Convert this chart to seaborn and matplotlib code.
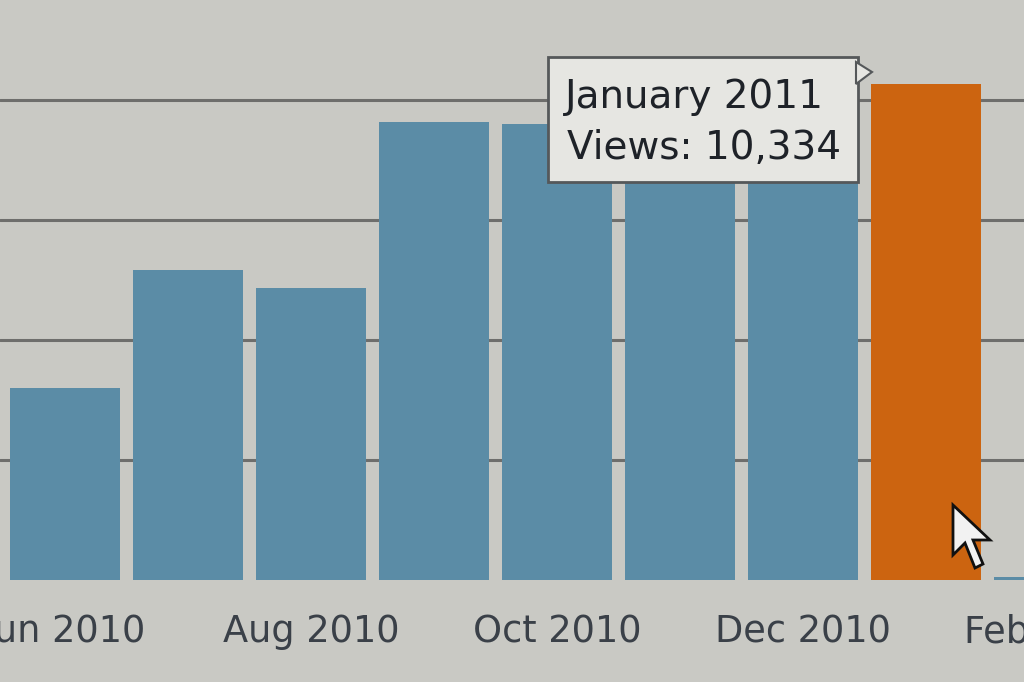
import matplotlib
matplotlib.use("Agg")
import matplotlib.pyplot as plt
from matplotlib.patches import Rectangle, Polygon
import seaborn as sns
import pandas as pd

months = ["Jun 2010", "Jul 2010", "Aug 2010", "Sep 2010", "Oct 2010",
          "Nov 2010", "Dec 2010", "Jan 2011", "Feb 2011"]
views = [4000, 6450, 6080, 9540, 9500, 9400, 9750, 10334, 70]
tick_labels = ["Jun 2010", "", "Aug 2010", "", "Oct 2010", "", "Dec 2010", "", "Feb 2011"]
highlight = "Jan 2011"
tooltip_title = "January 2011"
tooltip_value = "Views: 10,334"
grid_values = [2500, 5000, 7500, 10000]

bg = "#c9c9c4"
blue = "#5b8ca6"
orange = "#cc6410"
label_color = "#3a4048"

sns.set_theme(style="white")
plt.rcParams['font.family'] = ['DejaVu Sans']

df = pd.DataFrame({"month": months, "views": views})
palette = {m: (orange if m == highlight else blue) for m in months}

fig = plt.figure(figsize=(10.24, 6.82), dpi=100, facecolor=bg)
ax = fig.add_axes([0, 102 / 682, 1, 580 / 682])
ax.set_facecolor(bg)

for g in grid_values:
    ax.axhline(g, color="#6e6e6c", lw=2.2, zorder=0)

sns.barplot(data=df, x="month", y="views", hue="month", palette=palette,
            legend=False, width=0.895, saturation=1, linewidth=0, ax=ax, zorder=2)

ax.set_xticks(range(len(months)))
ax.set_xticklabels(["" if i == len(months) - 1 else t for i, t in enumerate(tick_labels)],
                   fontsize=26.5, color=label_color)
ax.tick_params(axis="x", length=0, pad=24)
ax.set_yticks([])
ax.set_xlim(-65 / 123, (1024 - 65) / 123)
ax.set_ylim(0, 580 * 2500 / 120)
ax.set_xlabel("")
ax.set_ylabel("")
for s in ax.spines.values():
    s.set_visible(False)

# last tick label lies beyond the view, draw it unclipped at its category position
ax.annotate(tick_labels[-1], xy=(len(months) - 1, 0), xycoords=("data", "axes fraction"),
            xytext=(0, -24), textcoords="offset points", ha="center", va="top",
            fontsize=26.5, color=label_color, annotation_clip=False)

# tooltip box
W, H = 1024, 682
fig.patches.append(Rectangle((548 / W, 1 - 182 / H), 310 / W, 125 / H,
                             transform=fig.transFigure, facecolor="#e6e6e2",
                             edgecolor="#55585a", lw=2, zorder=5))
fig.patches.append(Polygon([(856 / W, 1 - 62 / H), (872 / W, 1 - 72 / H), (856 / W, 1 - 84 / H)],
                           closed=True, transform=fig.transFigure, facecolor="#e6e6e2",
                           edgecolor="#55585a", lw=1.5, zorder=5))
fig.text(565 / W, 1 - 97 / H, tooltip_title, fontsize=28, color="#1e2228",
         va="center", ha="left", zorder=6)
fig.text(567 / W, 1 - 148 / H, tooltip_value, fontsize=28, color="#1e2228",
         va="center", ha="left", zorder=6)

# mouse cursor
cur = [(953, 505), (953, 555), (965, 543), (975, 568), (983, 564), (973, 540), (990, 540)]
fig.patches.append(Polygon([(x / W, 1 - y / H) for x, y in cur], closed=True,
                           transform=fig.transFigure, facecolor="#f2f2f2",
                           edgecolor="#111111", lw=2, zorder=7))

fig.savefig("out.png", dpi=100, facecolor=bg)
